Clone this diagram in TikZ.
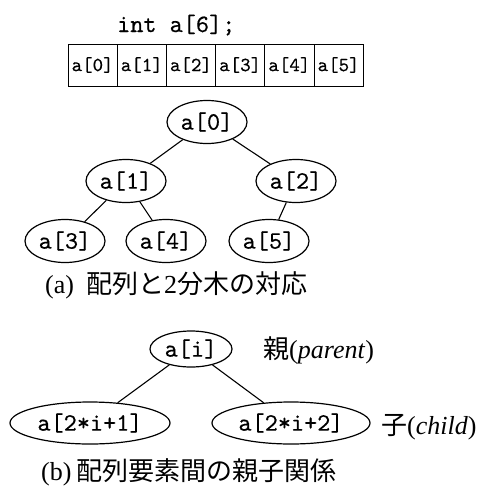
\documentclass[tikz,border=0pt]{standalone}
\usepackage{fontspec}
\newfontfamily\jp{Noto Sans CJK JP}
\newfontfamily\tms{Liberation Serif}
\newfontfamily\lab{lmmono10-regular.otf}[FakeBold=0.4]
\usetikzlibrary{shapes.geometric}
\tikzset{
  cell/.style={draw, line width=1pt, minimum width=49.2pt, minimum height=42pt, inner sep=0pt, font=\fontsize{20}{22}\selectfont\lab},
  ell/.style={draw, ellipse, line width=1.2pt, minimum width=80pt, minimum height=43pt, inner sep=0pt, font=\fontsize{25}{28}\selectfont\lab},
  wide/.style={ell, minimum width=160pt, minimum height=42pt},
  edge/.style={line width=1.1pt},
  txt/.style={font=\fontsize{26}{30}\selectfont\tms, inner sep=0pt},
}
\begin{document}
\begin{tikzpicture}[x=1pt,y=-1pt]
\useasboundingbox (0,0) rectangle (486,493);
\node[txt, font=\fontsize{25}{28}\selectfont\lab, anchor=base west] (decl) at (117,32) {int a[6];};
\foreach \i in {0,...,5} {
  \node[cell] (c\i) at ({92.6+49.2*\i},65) {a[\i]};
}
\node[ell] (n0) at (207,122) {a[0]};
\node[ell] (n1) at (126,181) {a[1]};
\node[ell] (n2) at (296,181) {a[2]};
\node[ell] (n3) at (65,241) {a[3]};
\node[ell] (n4) at (166,241) {a[4]};
\node[ell] (n5) at (269,241) {a[5]};
\draw[edge] (n0) -- (n1);
\draw[edge] (n0) -- (n2);
\draw[edge] (n1) -- (n3);
\draw[edge] (n1) -- (n4);
\draw[edge] (n2) -- (n5);
\node[txt, anchor=west] (capa) at (45,285) {(a)\hspace{12pt}{\jp 配列と}2{\jp 分木の対応}};

\node[ell, minimum width=82pt, minimum height=36pt] (p) at (191,349) {a[i]};
\node[wide] (l) at (90,423) {a[2*i+1]};
\node[wide, minimum width=158pt] (r) at (291,423) {a[2*i+2]};
\draw[edge] (p) -- (l);
\draw[edge] (p) -- (r);
\node[txt, anchor=west] (par) at (263,350) {{\jp 親}(\textit{parent})};
\node[txt, anchor=west] (chi) at (381,427) {{\jp 子}(\textit{child})};
\node[txt, anchor=west] (capb) at (41,472) {(b)\hspace{5pt}{\jp 配列要素間の親子関係}};
\end{tikzpicture}
\end{document}
